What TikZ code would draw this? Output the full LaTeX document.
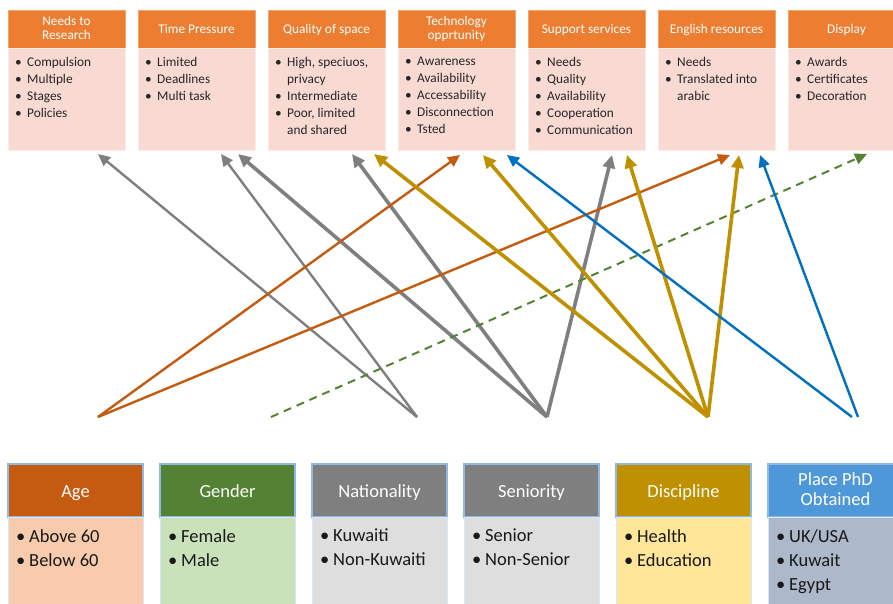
\documentclass[tikz,border=0pt]{standalone}
\usepackage{fontspec}
\setmainfont{Carlito}
\usepackage{xcolor}
\usepackage{tikz}
\usetikzlibrary{positioning,arrows.meta}

\definecolor{hdorange}{HTML}{ED7D31}
\definecolor{bdorange}{HTML}{F8DAD2}
\definecolor{agehd}{HTML}{C55A11}
\definecolor{agebd}{HTML}{F8CBAD}
\definecolor{genhd}{HTML}{548235}
\definecolor{genbd}{HTML}{C9E2BA}
\definecolor{grayhd}{HTML}{7F7F7F}
\definecolor{graybd}{HTML}{DEDEDE}
\definecolor{dischd}{HTML}{BF9000}
\definecolor{discbd}{HTML}{FFE699}
\definecolor{placehd}{HTML}{4E97D8}
\definecolor{placebd}{HTML}{ADB9CA}
\definecolor{edgeblue}{HTML}{8FB8E3}
\definecolor{arrblue}{HTML}{0070C0}

\newcommand{\tb}{\makebox[12pt][l]{\textbullet}}
\newcommand{\bb}{\makebox[13pt][l]{\textbullet}}

\begin{document}
\begin{tikzpicture}[x=1pt, y=-1pt, node distance=13pt,
  tophead/.style={rectangle, fill=hdorange, draw=hdorange!70!white, text=white, minimum width=117pt, minimum height=38pt, inner sep=1pt, outer sep=0pt, align=center, font=\fontsize{13.3}{14}\selectfont, execute at begin node=\rule{0pt}{0.9em}, execute at end node=\vphantom{g}},
  topbody/.style={rectangle, fill=bdorange, draw=bdorange!50!white, minimum width=117pt, minimum height=102pt, outer sep=0pt},
  toplist/.style={anchor=north west, align=left, inner xsep=7pt, inner ysep=9pt, text=black!85, font=\fontsize{13.3}{17}\selectfont},
  bothead/.style={rectangle, draw=edgeblue, line width=1.5pt, text=white, minimum width=135pt, minimum height=53pt, inner sep=1pt, outer sep=0pt, align=center, font=\fontsize{18.5}{20.5}\selectfont, execute at begin node=\rule{0pt}{0.9em}, execute at end node=\vphantom{g}},
  botbody/.style={rectangle, draw=edgeblue!35!white, line width=1pt, minimum width=135pt, minimum height=95pt, outer sep=0pt},
  botlist/.style={anchor=north west, align=left, inner xsep=8pt, inner ysep=12pt, text=black!90, font=\fontsize{18.5}{24}\selectfont},
  lnk/.style={line width=2.4pt, -{Triangle[length=12pt, width=11pt]}},
  lnkthick/.style={line width=3.6pt, -{Triangle[length=13pt, width=12pt]}}]

\path[use as bounding box, clip] (0,0) rectangle (893,604);

% top row: needs / issues
\node[tophead, anchor=north west] (needs) at (8,10) {Needs to\\Research};
\node[tophead, right=of needs] (time) {Time Pressure};
\node[tophead, right=of time] (space) {Quality of space};
\node[tophead, right=of space] (tech) {Technology\\opprtunity};
\node[tophead, right=of tech] (support) {Support services};
\node[tophead, right=of support] (english) {English resources};
\node[tophead, right=of english] (display) {Display};

\node[topbody, below=0pt of needs] (needsb) {};
\node[topbody, below=0pt of time] (timeb) {};
\node[topbody, below=0pt of space] (spaceb) {};
\node[topbody, below=0pt of tech] (techb) {};
\node[topbody, below=0pt of support] (supportb) {};
\node[topbody, below=0pt of english] (englishb) {};
\node[topbody, below=0pt of display] (displayb) {};

\node[toplist] (needsl) at (needsb.north west) {\tb Compulsion\\\tb Multiple\\\tb Stages\\\tb Policies};
\node[toplist] (timel) at (timeb.north west) {\tb Limited\\\tb Deadlines\\\tb Multi task};
\node[toplist] (spacel) at (spaceb.north west) {\tb High, speciuos,\\\hspace*{12pt}privacy\\\tb Intermediate\\\tb Poor, limited\\\hspace*{12pt}and shared};
\node[toplist] (techl) at (techb.north west) {\tb Awareness\\\tb Availability\\\tb Accessability\\\tb Disconnection\\\tb Tsted};
\node[toplist] (supportl) at (supportb.north west) {\tb Needs\\\tb Quality\\\tb Availability\\\tb Cooperation\\\tb Communication};
\node[toplist] (englishl) at (englishb.north west) {\tb Needs\\\tb Translated into\\\hspace*{12pt}arabic};
\node[toplist] (displayl) at (displayb.north west) {\tb Awards\\\tb Certificates\\\tb Decoration};

% bottom row: demographics
\node[bothead, fill=agehd, anchor=north west] (age) at (8,464) {Age};
\node[bothead, fill=genhd, right=17pt of age] (gender) {Gender};
\node[bothead, fill=grayhd, right=17pt of gender] (nation) {Nationality};
\node[bothead, fill=grayhd, right=17pt of nation] (senior) {Seniority};
\node[bothead, fill=dischd, right=17pt of senior] (discip) {Discipline};
\node[bothead, fill=placehd, right=17pt of discip] (place) {Place PhD\\Obtained};

\node[botbody, fill=agebd, below=0pt of age] (ageb) {};
\node[botbody, fill=genbd, below=0pt of gender] (genderb) {};
\node[botbody, fill=graybd, below=0pt of nation] (nationb) {};
\node[botbody, fill=graybd, below=0pt of senior] (seniorb) {};
\node[botbody, fill=discbd, below=0pt of discip] (discipb) {};
\node[botbody, fill=placebd, below=0pt of place] (placeb) {};

\node[botlist] (agel) at (ageb.north west) {\bb Above 60\\\bb Below 60};
\node[botlist] (genderl) at (genderb.north west) {\bb Female\\\bb Male};
\node[botlist] (nationl) at (nationb.north west) {\bb Kuwaiti\\\bb Non-Kuwaiti};
\node[botlist] (seniorl) at (seniorb.north west) {\bb Senior\\\bb Non-Senior};
\node[botlist] (discipl) at (discipb.north west) {\bb Health\\\bb Education};
\node[botlist] (placel) at (placeb.north west) {\bb UK/USA\\\bb Kuwait\\\bb Egypt};

% where the links start
\coordinate (agept) at ([shift={(22.5,-47)}]age.north);
\coordinate (genpt) at ([shift={(43.5,-47)}]gender.north);
\coordinate (natpt) at ([shift={(37.5,-47)}]nation.north);
\coordinate (senpt) at ([shift={(15.5,-47)}]senior.north);
\coordinate (dispt) at ([shift={(24.5,-47)}]discip.north);
\coordinate (plapt) at ([shift={(16.5,-47)}]place.north);
\coordinate (plapt2) at ([shift={(22.5,-47)}]place.north);

% links
\draw[lnk, grayhd] (natpt) -- ([shift={(31.5,4)}]needsb.south);
\draw[lnk, grayhd] (natpt) -- ([shift={(24.5,4)}]timeb.south);
\draw[lnkthick, grayhd] (senpt) -- ([shift={(41.5,4)}]timeb.south);
\draw[lnkthick, grayhd] (senpt) -- ([shift={(25.5,4)}]spaceb.south);
\draw[lnkthick, grayhd] (senpt) -- ([shift={(25.5,5)}]supportb.south);
\draw[lnk, agehd] (agept) -- ([shift={(3.5,5)}]techb.south);
\draw[lnk, agehd] (agept) -- ([shift={(13.5,5)}]englishb.south);
\draw[lnk, genhd, dash pattern=on 8pt off 6pt, line width=2pt] (genpt) -- ([shift={(20.5,4)}]displayb.south);
\draw[lnkthick, dischd] (dispt) -- ([shift={(47.5,4)}]spaceb.south);
\draw[lnkthick, dischd] (dispt) -- ([shift={(26.5,5)}]techb.south);
\draw[lnkthick, dischd] (dispt) -- ([shift={(40.5,5)}]supportb.south);
\draw[lnkthick, dischd] (dispt) -- ([shift={(22.5,5)}]englishb.south);
\draw[lnk, arrblue] (plapt) -- ([shift={(50.5,5)}]techb.south);
\draw[lnk, arrblue] (plapt2) -- ([shift={(43.5,5)}]englishb.south);
\end{tikzpicture}
\end{document}
